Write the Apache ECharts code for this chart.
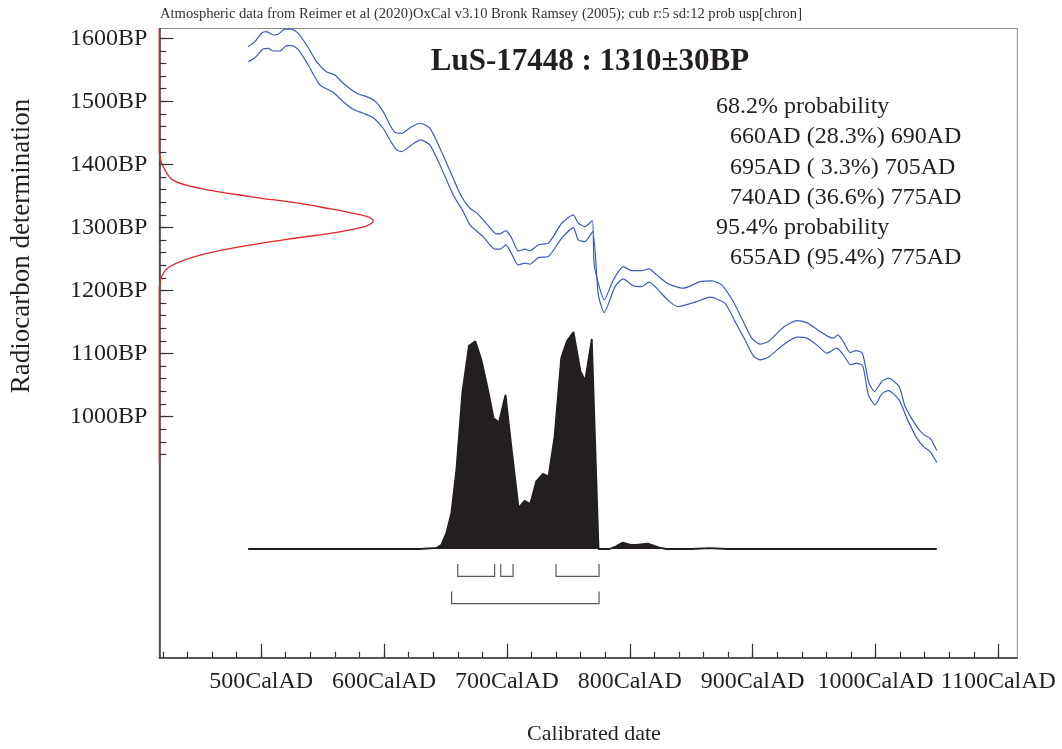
<!DOCTYPE html>
<html><head><meta charset="utf-8">
<script src="https://cdn.jsdelivr.net/npm/echarts@6.0.0/dist/echarts.min.js"></script>
<style>html,body{margin:0;padding:0;background:#fff}#c{width:1062px;height:749px}</style>
</head><body><div id="c"></div>
<script>
// ---- data ----
const caption = 'Atmospheric data from Reimer et al (2020)OxCal v3.10 Bronk Ramsey (2005); cub r:5 sd:12 prob usp[chron]';
const titleText = 'LuS-17448 : 1310\u00B130BP';
const xTitle = 'Calibrated date';
const yTitle = 'Radiocarbon determination';

// calibration curve, upper and lower bound [calAD, BP]
const calUpper = [
 [489.4,1586.6],[494.9,1594.6],[500.3,1607.9],[504.4,1610.4],[509.8,1605.2],[513.8,1606.3],
 [519.3,1614.5],[524.7,1614.5],[530.1,1607.9],[537.0,1589.3],[545.1,1562.9],[553.2,1547.0],
 [560.0,1541.8],[566.8,1528.6],[577.7,1512.8],[585.8,1507.4],[592.6,1500.6],[599.3,1483.6],
 [604.8,1462.5],[608.8,1450.9],[614.3,1449.3],[622.4,1459.8],[629.8,1465.2],[637.3,1457.3],
 [645.5,1425.6],[656.3,1378.0],[663.0,1349.0],[669.9,1330.4],[675.4,1323.0],[680.7,1311.9],
 [690.3,1290.8],[694.3,1289.7],[699.2,1294.9],[703.9,1282.9],[709.2,1262.7],[714.7,1265.4],
 [718.8,1263.2],[725.5,1272.2],[733.7,1274.9],[737.7,1285.4],[744.6,1306.6],[754.0,1319.8],
 [758.1,1306.6],[763.5,1301.3],[769.5,1310.8],[770.9,1243.2],[774.4,1211.5],[779.2,1185.0],
 [786.6,1216.7],[794.7,1237.8],[801.6,1231.5],[809.7,1231.5],[815.6,1234.2],[821.9,1224.7],
 [831.4,1210.4],[843.6,1203.6],[857.2,1214.0],[866.7,1215.2],[874.8,1208.8],[884.3,1182.0],
 [892.4,1150.6],[899.3,1124.3],[906.0,1114.8],[912.8,1118.9],[925.0,1141.7],[935.9,1152.2],
 [944.0,1149.0],[952.2,1138.6],[961.6,1126.8],[965.7,1124.3],[969.3,1129.5],[973.8,1118.9],
 [979.3,1101.5],[984.2,1104.6],[989.3,1100.5],[992.9,1068.8],[994.7,1053.0],[999.1,1039.6],
 [1005.1,1055.5],[1010.5,1060.9],[1019.2,1047.6],[1024.1,1015.9],[1033.6,984.1],[1039.5,971.0],
 [1044.4,965.8],[1049.9,946.1]
];
const calLower = [
 [489.4,1562.9],[494.9,1569.2],[501.6,1583.0],[505.7,1584.1],[509.8,1579.8],[515.2,1579.8],
 [520.7,1588.2],[524.7,1588.2],[530.1,1582.5],[538.3,1557.6],[547.8,1525.9],[558.6,1514.4],
 [566.8,1499.4],[574.9,1487.4],[583.0,1481.0],[591.2,1474.1],[599.3,1457.3],[604.8,1438.7],
 [610.2,1422.9],[614.3,1420.2],[622.4,1430.8],[629.8,1438.7],[637.3,1430.8],[645.5,1399.1],
 [656.3,1351.5],[664.5,1325.0],[669.9,1303.9],[680.7,1285.4],[690.3,1265.4],[694.3,1265.4],
 [699.2,1272.2],[703.9,1258.0],[709.2,1240.5],[714.7,1243.2],[718.8,1241.6],[725.5,1252.1],
 [733.7,1253.7],[744.6,1282.9],[754.0,1299.7],[758.1,1280.2],[763.5,1277.5],[769.8,1293.3],
 [774.4,1193.0],[779.2,1164.9],[788.0,1206.1],[794.7,1218.3],[802.9,1207.2],[809.7,1206.1],
 [815.6,1213.1],[821.9,1203.6],[831.4,1183.9],[839.5,1174.4],[843.6,1176.0],[854.5,1182.3],
 [865.3,1189.3],[868.0,1188.7],[877.5,1179.8],[885.7,1150.6],[893.8,1121.6],[900.6,1096.2],
 [906.0,1089.9],[912.8,1094.2],[925.0,1113.7],[935.9,1125.9],[944.0,1124.3],[952.2,1113.7],
 [960.3,1100.5],[968.5,1108.5],[973.8,1097.8],[979.9,1082.0],[984.2,1084.7],[989.6,1080.4],
 [994.2,1034.4],[999.6,1018.6],[1005.1,1036.0],[1010.5,1041.2],[1019.2,1026.5],[1025.5,997.5],
 [1033.6,965.8],[1039.5,951.5],[1044.4,944.5],[1049.9,927.1]
];

// measured radiocarbon date distribution (relative density) vs BP
const gaussBP      = [926, 1201, 1222, 1238, 1256, 1272, 1284, 1290, 1296, 1303, 1310, 1317, 1323.5, 1330, 1338, 1349, 1362, 1375, 1396, 1420, 1615];
const gaussDensity = [0,   0,    0.011,0.05, 0.19, 0.424,0.657,0.79, 0.89, 0.972,1.0,  0.972,0.89,   0.79, 0.657,0.424,0.19, 0.064,0.019,0,    0];

// calibrated probability distribution (relative)
const probYears  = [489.4,629.0,642.6,646.7,650.7,654.8,658.9,663.7,669.1,674.3,679.2,684.6,689.2,693.5,698.9,703.6,709.5,714.4,719.0,723.9,729.3,733.9,738.8,744.2,748.8,754.2,759.9,763.7,769.1,774.6,783.5,788.9,794.3,800.0,805.2,814.6,820.0,824.1,829.6,850.0,865.0,880.0,1049.9];
const probValues = [0,    0,    0.5,  2.0,  7.4,  16.6, 36.7, 72.1, 94.0, 96.0, 87.5, 73.6, 60.4, 58.5, 71.3, 47.4, 19.0, 22.3, 20.8, 31.3, 34.7, 33.6, 52.1, 88.3, 96.0, 100.3,82.1, 77.8, 97.1, 0,    0,    1.2,  3.0,  2.0,  1.85, 2.45, 1.5,  0.6,  0,    0,    0.4,  0,    0];

// calibrated ranges
const range68 = [[660,690],[695,705],[740,775]];
const pct68   = [28.3, 3.3, 36.6];
const range95 = [[655,775]];
const pct95   = [95.4];

// ticks
const xMajorTicks = [500,600,700,800,900,1000,1100];
const xMinorTicks = []; for (let v = 420; v <= 1100; v += 20) xMinorTicks.push(v);
const yMajorTicks = [1000,1100,1200,1300,1400,1500,1600];
const yMinorTicks = []; for (let v = 940; v <= 1600; v += 20) yMinorTicks.push(v);

// ---- chart ----
const FONT = '"Liberation Serif", "DejaVu Serif", serif';
const INK = '#231f20';
const chart = echarts.init(document.getElementById('c'), null, {renderer: 'canvas'});

const pad = p => (p < 10 ? ' ' : '') + p.toFixed(1);
const rangeLines = [];
rangeLines.push({t: '68.2% probability', head: true});
range68.forEach((r, i) => rangeLines.push({t: `${r[0]}AD (${pad(pct68[i])}%) ${r[1]}AD`}));
rangeLines.push({t: '95.4% probability', head: true});
range95.forEach((r, i) => rangeLines.push({t: `${r[0]}AD (${pad(pct95[i])}%) ${r[1]}AD`}));

const graphics = [
  {type: 'text', x: 160, y: 14, style: {text: caption, font: '14.6px ' + FONT, fill: '#333', textVerticalAlign: 'middle'}},
  {type: 'text', x: 590, y: 62, style: {text: titleText, font: 'bold 31px ' + FONT, fill: INK, textAlign: 'center', textVerticalAlign: 'middle'}},
  {type: 'text', x: 594, y: 734, style: {text: xTitle, font: '22px ' + FONT, fill: INK, textAlign: 'center', textVerticalAlign: 'middle'}},
  {type: 'text', x: 22, y: 246, rotation: Math.PI / 2, style: {text: yTitle, font: '27px ' + FONT, fill: INK, textAlign: 'center', textVerticalAlign: 'middle'}}
];
rangeLines.forEach((l, i) => {
  graphics.push({type: 'text', x: l.head ? 716 : 730, y: 107 + i * 30.2,
    style: {text: l.t, font: '24px ' + FONT, fill: INK, textAlign: 'left', textVerticalAlign: 'middle'}});
});

const option = {
  animation: false,
  backgroundColor: '#fff',
  grid: {left: 159.3, top: 28.5, right: 44.7, bottom: 91.3, show: true, borderColor: '#8a8a8a', borderWidth: 1, backgroundColor: 'transparent'},
  graphic: graphics,
  xAxis: [
    {type: 'value', min: 417.1, max: 1115.4, position: 'bottom',
     axisLine: {show: true, onZero: false, lineStyle: {color: '#333', width: 1.5}},
     axisTick: {show: true, inside: true, length: 14, customValues: xMajorTicks, lineStyle: {color: '#333', width: 1.2}},
     axisLabel: {show: true, customValues: xMajorTicks, formatter: v => v + 'CalAD', fontFamily: FONT, fontSize: 24, color: INK, margin: 12},
     splitLine: {show: false}},
    {type: 'value', min: 417.1, max: 1115.4, position: 'bottom',
     axisLine: {show: false, onZero: false}, axisLabel: {show: false}, splitLine: {show: false},
     axisTick: {show: true, inside: true, length: 6, customValues: xMinorTicks, lineStyle: {color: '#333', width: 1.2}}},
    {type: 'value', min: 0, max: 4.01, position: 'bottom', show: false, axisLine: {onZero: false}}
  ],
  yAxis: [
    {type: 'value', min: 617.5, max: 1615.5, position: 'left',
     axisLine: {show: true, onZero: false, lineStyle: {color: '#333', width: 1.5}},
     axisTick: {show: true, inside: true, length: 14, customValues: yMajorTicks, lineStyle: {color: '#333', width: 1.2}},
     axisLabel: {show: true, customValues: yMajorTicks, formatter: v => v + 'BP', fontFamily: FONT, fontSize: 24, color: INK, margin: 12},
     splitLine: {show: false}},
    {type: 'value', min: 617.5, max: 1615.5, position: 'left',
     axisLine: {show: false, onZero: false}, axisLabel: {show: false}, splitLine: {show: false},
     axisTick: {show: true, inside: true, length: 7, customValues: yMinorTicks, lineStyle: {color: '#333', width: 1.2}}},
    {type: 'value', min: -50.25, max: 240.6, position: 'left', show: false, axisLine: {onZero: false}}
  ],
  series: [
    {type: 'line', name: 'upper', xAxisIndex: 0, yAxisIndex: 0, data: calUpper, showSymbol: false, symbol: 'none', smooth: 0.2,
     lineStyle: {color: '#3d5cb8', width: 1.2}, silent: true},
    {type: 'line', name: 'lower', xAxisIndex: 0, yAxisIndex: 0, data: calLower, showSymbol: false, symbol: 'none', smooth: 0.2,
     lineStyle: {color: '#3d5cb8', width: 1.2}, silent: true},
    {type: 'line', name: 'measured', xAxisIndex: 2, yAxisIndex: 0, data: gaussBP.map((b, i) => [gaussDensity[i], b]),
     showSymbol: false, symbol: 'none', smooth: 0.35, lineStyle: {color: '#e3262a', width: 1.3}, silent: true, z: 5},
    {type: 'line', name: 'prob', xAxisIndex: 0, yAxisIndex: 2, data: probYears.map((y, i) => [y, probValues[i]]),
     showSymbol: false, symbol: 'none', lineStyle: {color: INK, width: 1.8}, areaStyle: {color: INK, opacity: 1}, silent: true},
    {type: 'custom', name: 'ranges', xAxisIndex: 0, yAxisIndex: 2, silent: true, clip: false,
     data: range68.map(r => [r[0], r[1], 0]).concat(range95.map(r => [r[0], r[1], 1])),
     renderItem: function (params, api) {
       const s = api.value(0), e = api.value(1), row = api.value(2);
       const p0 = api.coord([s, 0]), p1 = api.coord([e, 0]);
       const top = p0[1] + (row === 0 ? 15 : 42.4), bot = p0[1] + (row === 0 ? 27.4 : 54.7);
       return {type: 'polyline', shape: {points: [[p0[0], top], [p0[0], bot], [p1[0], bot], [p1[0], top]]},
               style: {stroke: '#5a5a5a', fill: null, lineWidth: 1.2}};
     }}
  ]
};
chart.setOption(option);
</script></body></html>
